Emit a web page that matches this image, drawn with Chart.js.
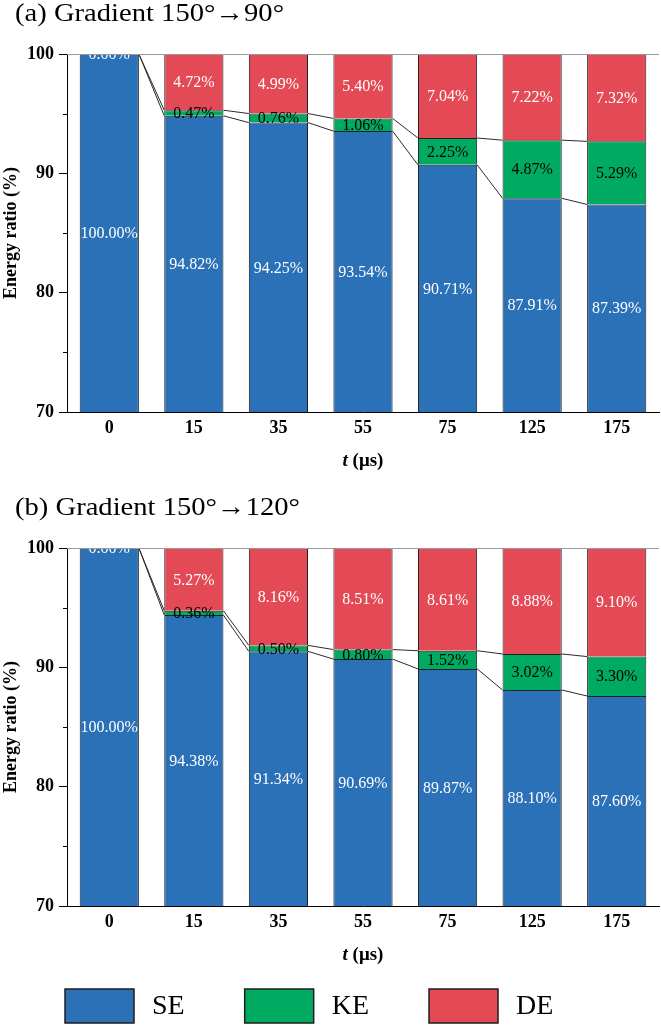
<!DOCTYPE html>
<html>
<head>
<meta charset="utf-8">
<title>Energy ratio</title>
<script src="https://cdn.jsdelivr.net/npm/chart.js@4.4.0/dist/chart.umd.min.js"></script>
<style>
  body { margin: 0; background: #fff; }
  canvas { display: block; }
</style>
</head>
<body>
<canvas id="chartA" width="661" height="494"></canvas>
<canvas id="chartB" width="661" height="531"></canvas>
<script>
// t (µs) categories
const categories = ['0', '15', '35', '55', '75', '125', '175'];

// (a) Gradient 150°→90°
const seA = [100.00, 94.82, 94.25, 93.54, 90.71, 87.91, 87.39];
const keA = [0.00, 0.47, 0.76, 1.06, 2.25, 4.87, 5.29];
const deA = [0.00, 4.72, 4.99, 5.40, 7.04, 7.22, 7.32];

// (b) Gradient 150°→120°
const seB = [100.00, 94.38, 91.34, 90.69, 89.87, 88.10, 87.60];
const keB = [0.00, 0.36, 0.50, 0.80, 1.52, 3.02, 3.30];
const deB = [0.00, 5.27, 8.16, 8.51, 8.61, 8.88, 9.10];

const seriesNames = ['SE', 'KE', 'DE'];
const yTicks = [70, 75, 80, 85, 90, 95, 100];
const yLabelled = [70, 80, 90, 100];

const colors = ['#2A71B7', '#00AB61', '#E44A55'];
const labelColors = ['#ffffff', '#000000', '#ffffff'];
const serif = '"Liberation Serif", "Times New Roman", serif';

// panel title, e.g. "(a) Gradient ..."
const panelTitle = {
    id: 'panelTitle',
    afterDraw(chart, args, opts) {
        const ctx = chart.ctx;
        ctx.save();
        ctx.font = `26px ${serif}`;
        ctx.fillStyle = '#000';
        ctx.textBaseline = 'alphabetic';
        ctx.scale(1.1, 1);
        ctx.fillText(opts.text, 15 / 1.1, 21);
        ctx.restore();
    }
};

// frame line at top, short minor ticks, italic x title
const axisExtras = {
    id: 'axisExtras',
    afterDraw(chart) {
        const ctx = chart.ctx;
        const area = chart.chartArea;
        const y = chart.scales.y;
        const x = chart.scales.x;
        ctx.save();
        ctx.strokeStyle = '#9a9a9a';
        ctx.lineWidth = 1;
        ctx.beginPath();
        ctx.moveTo(area.left, area.top + 0.5);
        ctx.lineTo(area.right, area.top + 0.5);
        ctx.stroke();

        ctx.strokeStyle = '#000';
        ctx.beginPath();
        y.ticks.forEach(t => {
            if (yLabelled.includes(t.value)) return;
            const py = Math.round(y.getPixelForValue(t.value)) + 0.5;
            ctx.moveTo(area.left - 4, py);
            ctx.lineTo(area.left, py);
        });
        ctx.stroke();

        // "t (μs)"
        const partT = 't';
        const partU = ' (μs)';
        ctx.fillStyle = '#000';
        ctx.textBaseline = 'middle';
        ctx.font = `italic bold 19px ${serif}`;
        const wT = ctx.measureText(partT).width;
        ctx.font = `bold 19px ${serif}`;
        const wU = ctx.measureText(partU).width;
        const cx = (area.left + area.right) / 2;
        const ty = x.top + 49;
        ctx.font = `italic bold 19px ${serif}`;
        ctx.fillText(partT, cx - (wT + wU) / 2, ty);
        ctx.font = `bold 19px ${serif}`;
        ctx.fillText(partU, cx - (wT + wU) / 2 + wT, ty);
        ctx.restore();
    }
};

// lines joining the SE top and SE+KE top of neighbouring bars, plus value labels
const barAnnotations = {
    id: 'barAnnotations',
    afterDatasetsDraw(chart) {
        const ctx = chart.ctx;
        const area = chart.chartArea;
        ctx.save();
        ctx.strokeStyle = '#2b2b2b';
        ctx.lineWidth = 1;
        [0, 1].forEach(di => {
            const bars = chart.getDatasetMeta(di).data;
            ctx.beginPath();
            for (let i = 0; i < bars.length - 1; i++) {
                const a = bars[i], b = bars[i + 1];
                ctx.moveTo(a.x + a.width / 2, a.y);
                ctx.lineTo(b.x - b.width / 2, b.y);
            }
            ctx.stroke();
        });

        ctx.font = `16px ${serif}`;
        ctx.textAlign = 'center';
        ctx.textBaseline = 'middle';
        chart.data.datasets.forEach((ds, di) => {
            const bars = chart.getDatasetMeta(di).data;
            bars.forEach((el, i) => {
                const v = ds.data[i];
                if (v === 0 && di === 1) return; // same spot as the DE 0.00% label
                const bottom = Math.min(el.base, area.bottom);
                const top = Math.max(el.y, area.top);
                ctx.fillStyle = labelColors[di];
                ctx.fillText(v.toFixed(2) + '%', el.x, (top + bottom) / 2 + 1);
            });
        });
        ctx.restore();
    }
};

// legend under panel (b)
const boxLegend = {
    id: 'boxLegend',
    afterDraw(chart, args, opts) {
        const ctx = chart.ctx;
        ctx.save();
        ctx.font = `28px ${serif}`;
        ctx.textBaseline = 'middle';
        let x = opts.x;
        const y = chart.height - opts.bottom - opts.boxHeight;
        chart.data.datasets.forEach(ds => {
            ctx.fillStyle = ds.backgroundColor;
            ctx.fillRect(x, y, opts.boxWidth, opts.boxHeight);
            ctx.strokeStyle = '#1e1e1e';
            ctx.lineWidth = 1.5;
            ctx.strokeRect(x, y, opts.boxWidth, opts.boxHeight);
            ctx.fillStyle = '#000';
            const tx = x + opts.boxWidth + opts.gap;
            ctx.fillText(ds.label, tx, y + opts.boxHeight / 2 + 1);
            x = tx + ctx.measureText(ds.label).width + opts.spacing;
        });
        ctx.restore();
    }
};

function makeDatasets(se, ke, de) {
    return [se, ke, de].map((values, i) => ({
        label: seriesNames[i],
        data: values,
        backgroundColor: colors[i],
        borderColor: '#1e1e1e',
        borderWidth: c => (c.raw === 0 ? 0 : 1),
        barPercentage: 0.7,
        categoryPercentage: 1.0,
        clip: 0
    }));
}

function makeChart(id, title, se, ke, de, bottomSpace, withLegend) {
    const plugins = [panelTitle, axisExtras, barAnnotations];
    if (withLegend) plugins.push(boxLegend);
    return new Chart(document.getElementById(id), {
        type: 'bar',
        data: {
            labels: categories,
            datasets: makeDatasets(se, ke, de)
        },
        options: {
            responsive: false,
            animation: false,
            devicePixelRatio: 1,
            layout: { padding: { top: 54, left: 0, right: 2, bottom: bottomSpace } },
            scales: {
                x: {
                    stacked: true,
                    z: 1,
                    grid: { display: false, drawTicks: false },
                    border: { display: true, color: '#000', width: 1 },
                    ticks: {
                        color: '#000',
                        padding: 6,
                        font: { family: serif, size: 18, weight: 'bold' }
                    },
                    afterFit: s => { s.height = 82; }
                },
                y: {
                    stacked: true,
                    min: yTicks[0],
                    max: yTicks[yTicks.length - 1],
                    z: 1,
                    afterBuildTicks: s => { s.ticks = yTicks.map(v => ({ value: v })); },
                    ticks: {
                        color: '#000',
                        padding: 5,
                        font: { family: serif, size: 18, weight: 'bold' },
                        callback: v => (yLabelled.includes(v) ? v : '')
                    },
                    grid: {
                        drawOnChartArea: false,
                        tickLength: 8,
                        tickColor: c => (yLabelled.includes(c.tick.value) ? '#000' : 'rgba(0,0,0,0)')
                    },
                    border: { display: true, color: '#000', width: 1 },
                    title: {
                        display: true,
                        text: 'Energy ratio (%)',
                        color: '#000',
                        padding: { top: 1, bottom: 0 },
                        font: { family: serif, size: 18, weight: 'bold' }
                    },
                    afterFit: s => { s.width = 67; }
                }
            },
            plugins: {
                legend: { display: false },
                tooltip: { enabled: false },
                panelTitle: { text: title },
                boxLegend: { x: 65, boxWidth: 69, boxHeight: 34, gap: 18, spacing: 60, bottom: 2 }
            }
        },
        plugins: plugins
    });
}

makeChart('chartA', '(a) Gradient 150°→90°', seA, keA, deA, 0, false);
makeChart('chartB', '(b) Gradient 150°→120°', seB, keB, deB, 37, true);
</script>
</body>
</html>
